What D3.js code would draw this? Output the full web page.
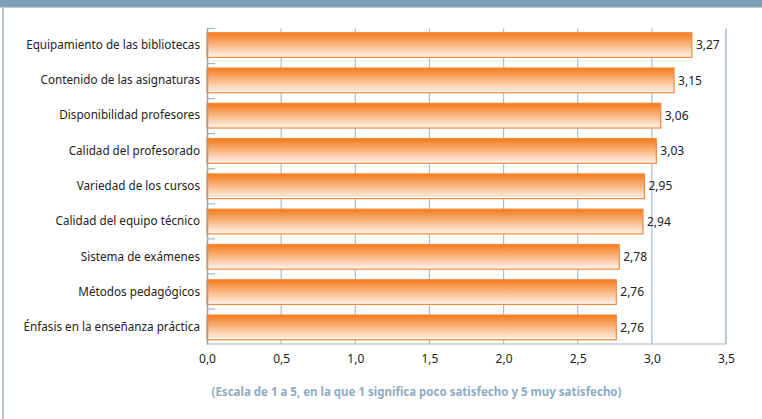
<!DOCTYPE html>
<html><head><meta charset="utf-8">
<script src="https://cdn.jsdelivr.net/npm/d3@7/dist/d3.min.js"></script>
<style>body{margin:0;background:#fff;} svg{display:block;}</style>
</head><body>
<svg id="c" width="762" height="419"></svg>
<script>
const categories = ["Equipamiento de las bibliotecas","Contenido de las asignaturas","Disponibilidad profesores","Calidad del profesorado","Variedad de los cursos","Calidad del equipo técnico","Sistema de exámenes","Métodos pedagógicos","Énfasis en la enseñanza práctica"];
const values = [3.27,3.15,3.06,3.03,2.95,2.94,2.78,2.76,2.76];
const xTicks = [0,0.5,1,1.5,2,2.5,3,3.5];
const note = "(Escala de 1 a 5, en la que 1 significa poco satisfecho y 5 muy satisfecho)";

const svg = d3.select("#c");
const font = "'Noto Sans', 'Open Sans', sans-serif";
const fmt = v => d3.format(".2f")(v).replace(".", ",");
const fmt1 = v => d3.format(".1f")(v).replace(".", ",");

// frame
svg.append("rect").attr("x",0).attr("y",0).attr("width",762).attr("height",7.5).attr("fill","#7fa1b6");
svg.append("line").attr("x1",3).attr("x2",3).attr("y1",7).attr("y2",419).attr("stroke","#9fb6c6").attr("stroke-width",1.5);

const m = {l:207, r:726, t:28.5, b:344};
const x = d3.scaleLinear().domain([0,3.5]).range([m.l, m.r]);
const y = d3.scaleBand().domain(categories).range([m.t, m.b]).paddingInner(0.3).paddingOuter(0.12);

const defs = svg.append("defs");
const g = defs.append("linearGradient").attr("id","bg").attr("x1",0).attr("y1",0).attr("x2",0).attr("y2",1);
g.append("stop").attr("offset","0%").attr("stop-color","#f47b1a");
g.append("stop").attr("offset","35%").attr("stop-color","#f8a566");
g.append("stop").attr("offset","100%").attr("stop-color","#fff6ef");

// gridlines
svg.append("g").selectAll("line").data(xTicks.slice(1)).join("line")
  .attr("x1",d=>x(d)).attr("x2",d=>x(d)).attr("y1",m.t).attr("y2",m.b)
  .attr("stroke",d=>d===3.5?"#8fa9bc":"#a9bfce").attr("stroke-width",1.2);
// bottom axis line
svg.append("line").attr("x1",m.l).attr("x2",m.r).attr("y1",m.b).attr("y2",m.b).attr("stroke","#9fb6c6").attr("stroke-width",1.2);

// bars
svg.append("g").selectAll("rect").data(values).join("rect")
  .attr("x",x(0)).attr("y",(d,i)=>y(categories[i]))
  .attr("width",d=>x(d)-x(0)).attr("height",y.bandwidth())
  .attr("fill","url(#bg)").attr("stroke","#f5883a").attr("stroke-width",1.2);

// left axis
const yAxis = d3.axisLeft(y).tickSize(0).tickPadding(7);
const ya = svg.append("g").attr("transform",`translate(${m.l},0)`).call(yAxis);
ya.select(".domain").attr("stroke","#a79b93").attr("stroke-width",1.5);
ya.selectAll("text").attr("font-family",font).attr("font-size",11.7).attr("fill","#222");
// boundary ticks pointing right
const bounds = d3.range(categories.length+1).map(i=>m.t + i*(m.b-m.t)/categories.length);
svg.append("g").selectAll("line").data(bounds.slice(0,-1)).join("line")
  .attr("x1",m.l).attr("x2",m.l+8).attr("y1",d=>d).attr("y2",d=>d)
  .attr("stroke","#9fb6c6").attr("stroke-width",1.2);

// value labels
svg.append("g").selectAll("text").data(values).join("text")
  .attr("x",d=>x(d)+4).attr("y",(d,i)=>y(categories[i])+y.bandwidth()/2)
  .attr("dy","0.35em").attr("font-family",font).attr("font-size",12).attr("fill","#222")
  .text(d=>fmt(d));

// x tick labels
const xa = svg.append("g").attr("transform",`translate(0,${m.b})`)
  .call(d3.axisBottom(x).tickValues(xTicks).tickSize(0).tickPadding(10).tickFormat(fmt1));
xa.select(".domain").remove();
xa.selectAll("text").attr("font-family",font).attr("font-size",12).attr("fill","#222");

svg.append("text").attr("x",(m.l+m.r)/2 - 50).attr("y",392).attr("dy","0.35em").attr("text-anchor","middle")
  .attr("font-family",font).attr("font-size",11.5).attr("font-weight","bold").attr("fill","#8eabc1")
  .text(note);
</script>
</body></html>
